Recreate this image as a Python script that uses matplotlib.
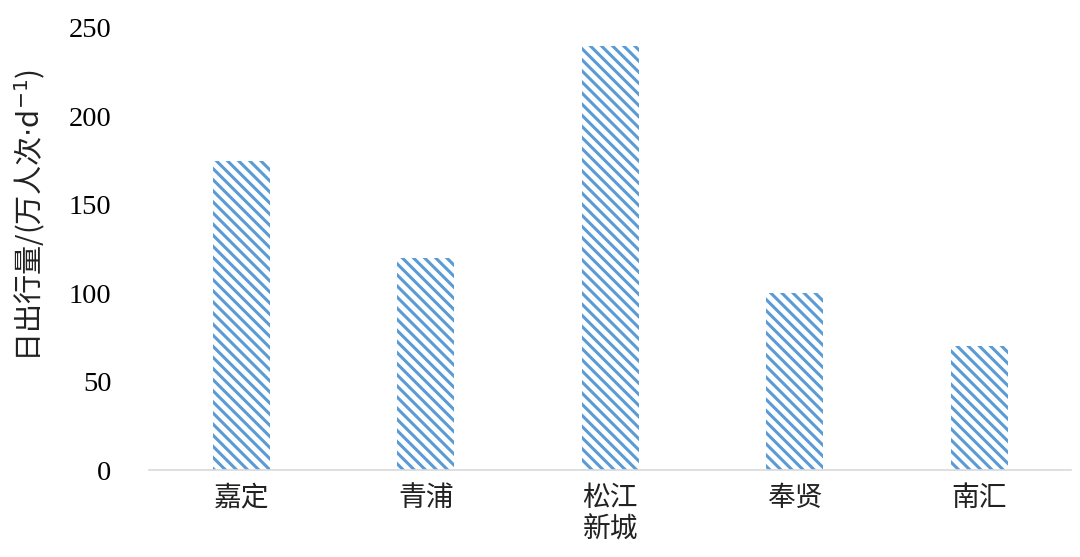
import matplotlib
matplotlib.use('Agg')
import matplotlib.pyplot as plt

# values
districts = ['嘉定', '青浦', '松江\n新城', '奉贤', '南汇']
daily_trips = [175, 120, 240, 100, 70]
y_ticks = [0, 50, 100, 150, 200, 250]

plt.rcParams['font.family'] = ['Noto Sans CJK SC', 'DejaVu Sans']
plt.rcParams['hatch.linewidth'] = 2.2

fig = plt.figure(figsize=(10.8, 5.57), dpi=100)
ax = fig.add_axes([0.138, 0.156, 0.854, 0.794])

x = range(len(districts))
ax.bar(x, daily_trips, width=0.31, color='white', edgecolor='#5b9bd5',
       linewidth=0, hatch='\\\\\\')

ax.set_xlim(-0.5, len(districts) - 0.5)
ax.set_ylim(0, 250)
ax.set_yticks(y_ticks)
ax.set_yticklabels([str(v) for v in y_ticks], family='Liberation Serif', fontsize=20.5)
ax.set_xticks(list(x))
ax.set_xticklabels(districts, fontsize=20, linespacing=1.1, color='#222222')
ax.tick_params(axis='y', length=0, pad=27)
ax.tick_params(axis='x', length=0, pad=9)

for side in ['top', 'right', 'left']:
    ax.spines[side].set_visible(False)
ax.spines['bottom'].set_color('#d9d9d9')
ax.spines['bottom'].set_linewidth(1.2)

ax.set_ylabel('日出行量/(万人次$\\cdot$d$^{-1}$)', fontsize=21, color='#222222')
ax.yaxis.set_label_coords(-0.11, 0.575)

fig.savefig('out.png', dpi=100)
